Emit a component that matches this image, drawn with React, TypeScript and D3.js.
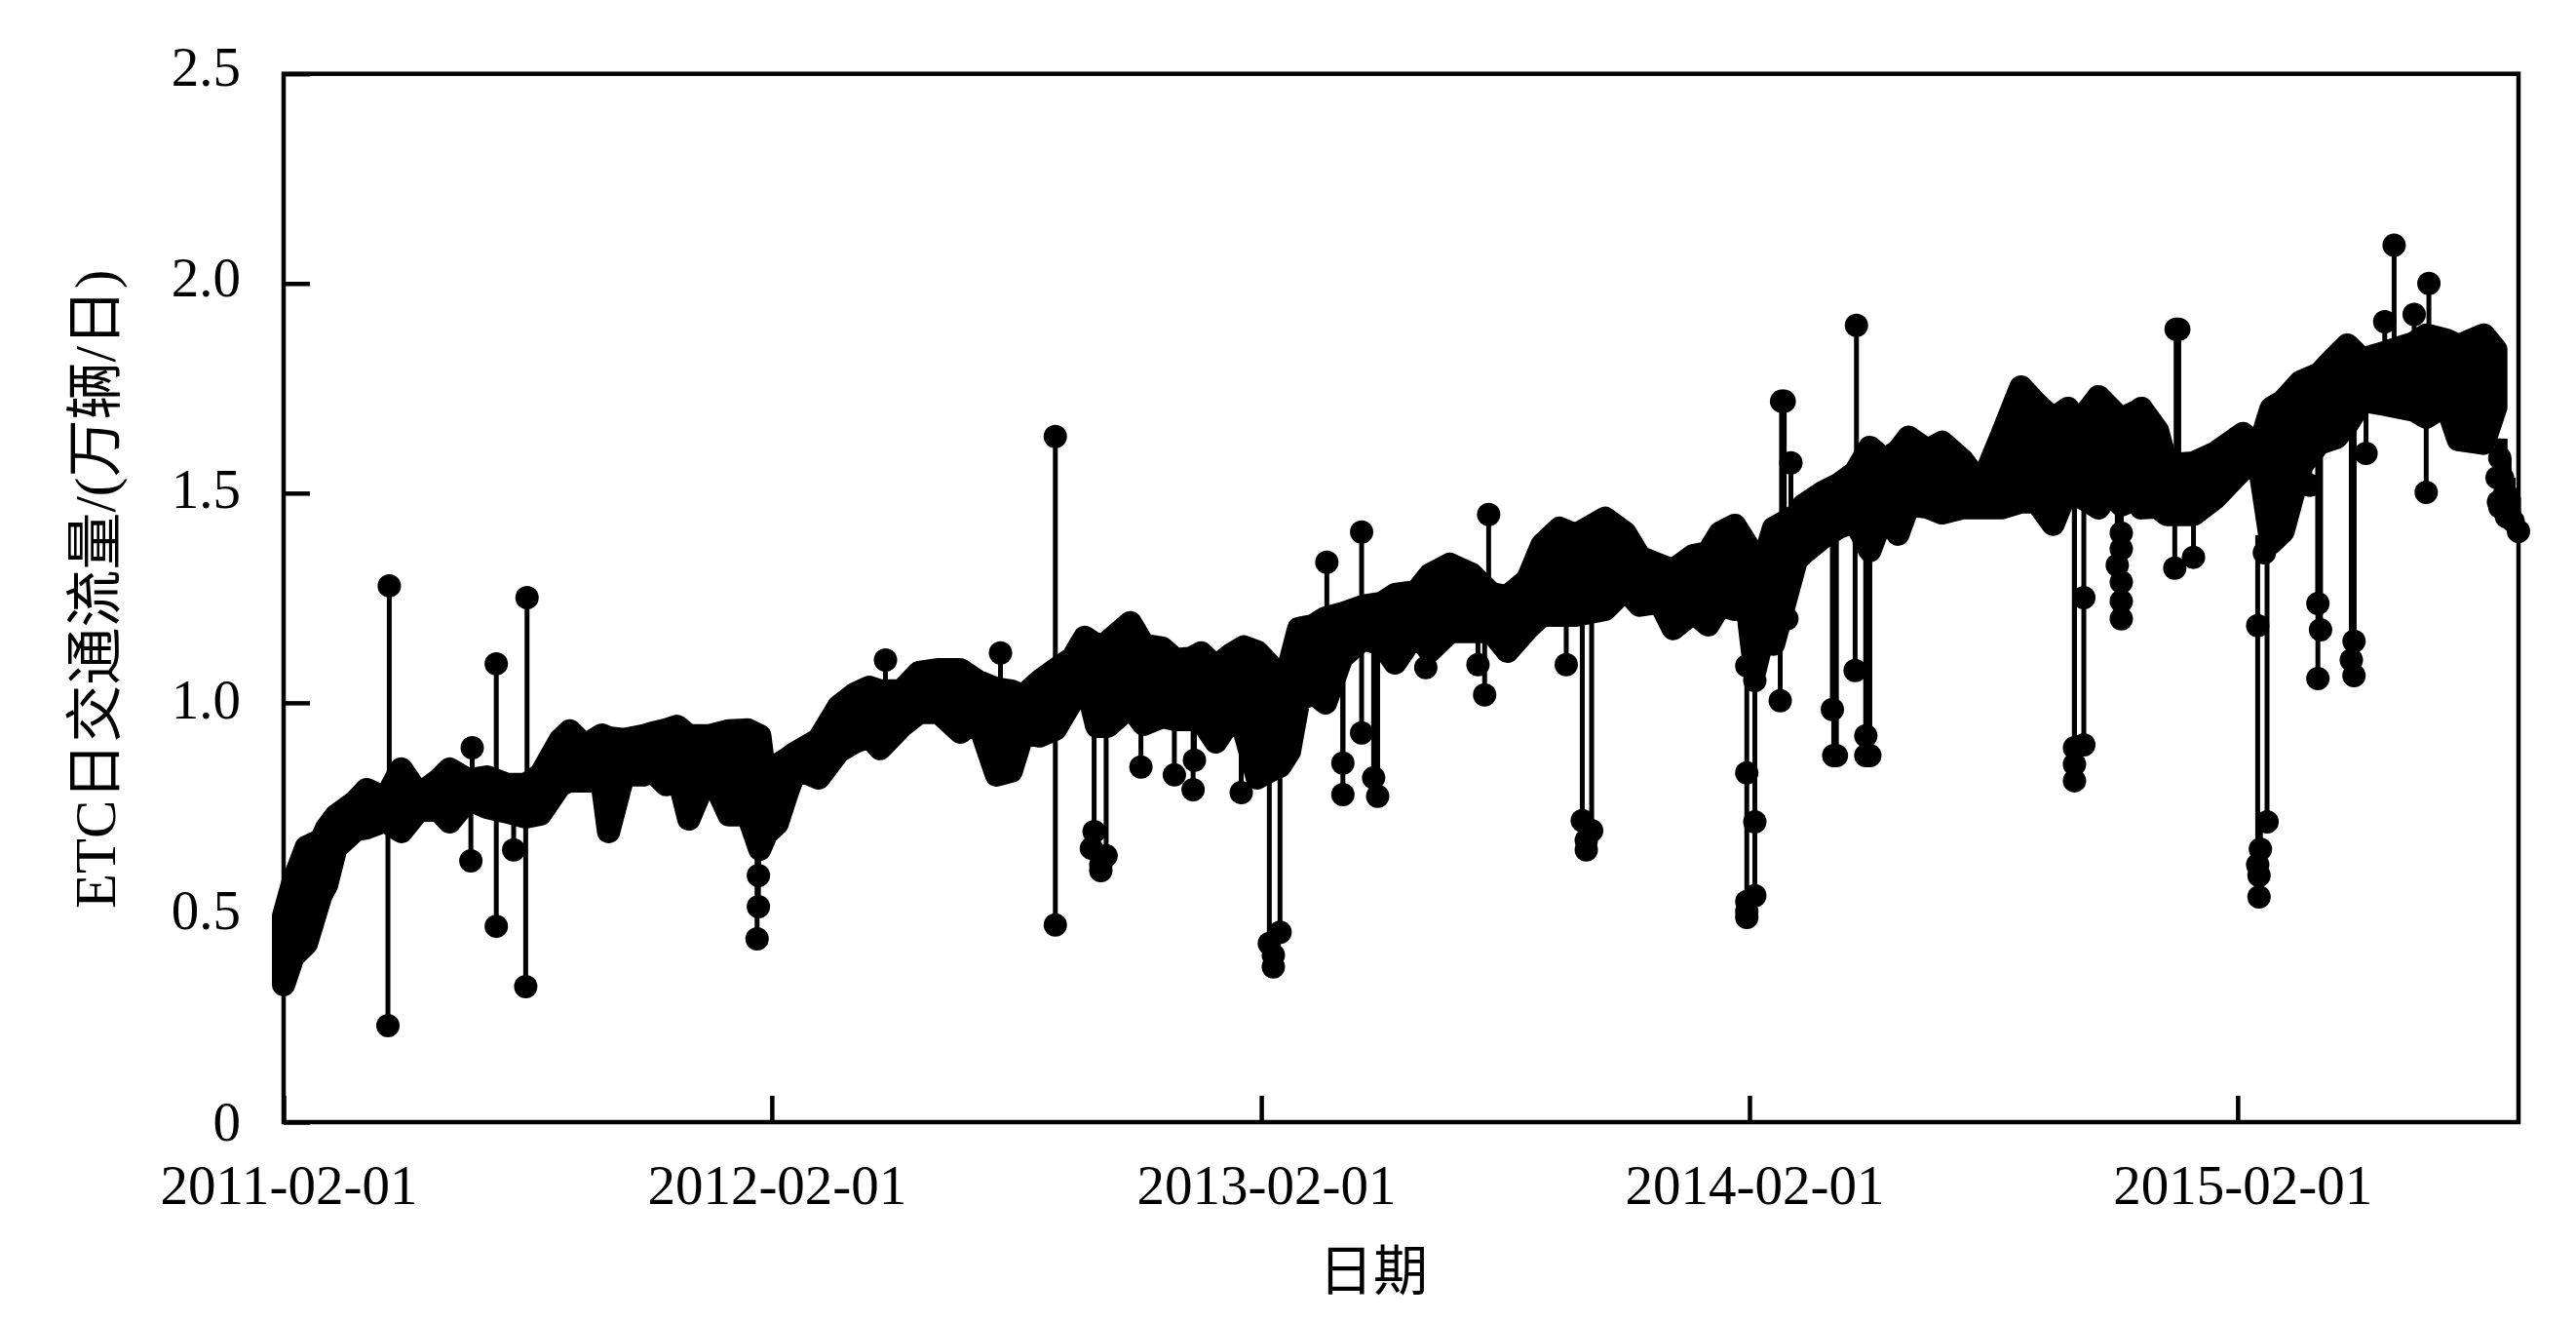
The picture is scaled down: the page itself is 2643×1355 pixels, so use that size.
import React, { useEffect, useRef } from "react";
import * as d3 from "d3";

const startDate = new Date(Date.UTC(2011, 1, 1));
const endDate = new Date(Date.UTC(2015, 7, 30));
const xTickDates = [2011, 2012, 2013, 2014, 2015].map((yr) => new Date(Date.UTC(yr, 1, 1)));
const yTickValues = [0, 0.5, 1, 1.5, 2, 2.5];

// daily flow band: [days since 2011-02-01, upper, lower]
const band2011: number[][] = [
  [0, 0.491, 0.328], [7, 0.572, 0.395], [17, 0.656, 0.426], [28, 0.672, 0.542], [32, 0.7, 0.565],
  [39, 0.73, 0.653], [54, 0.765, 0.698], [62, 0.793, 0.702], [76, 0.772, 0.719], [88, 0.842, 0.693],
  [101, 0.781, 0.744], [116, 0.816, 0.744], [124, 0.842, 0.716], [138, 0.816, 0.77], [152, 0.823, 0.751],
  [167, 0.805, 0.74], [181, 0.805, 0.728], [192, 0.828, 0.735], [207, 0.912, 0.805], [214, 0.933, 0.814],
  [225, 0.898, 0.814], [238, 0.923, 0.814], [243, 0.916, 0.693], [254, 0.912, 0.828], [269, 0.921, 0.828],
  [276, 0.928, 0.837], [286, 0.935, 0.805], [294, 0.944, 0.837], [303, 0.921, 0.723], [318, 0.921, 0.837],
  [333, 0.933, 0.733], [347, 0.935, 0.735], [356, 0.921, 0.651],
];
const band2012: number[][] = [
  [361, 0.795, 0.688], [369, 0.851, 0.712], [376, 0.865, 0.781], [383, 0.881, 0.844], [400, 0.912, 0.821],
  [415, 0.991, 0.884], [427, 1.021, 0.907], [438, 1.037, 0.919], [446, 1.028, 0.891], [462, 1.028, 0.944],
  [475, 1.072, 0.977], [490, 1.079, 0.977], [506, 1.079, 0.93], [519, 1.051, 0.96], [533, 1.033, 0.828],
  [544, 1.028, 0.837], [553, 1.016, 0.93], [565, 1.051, 0.921], [577, 1.079, 0.937], [590, 1.107, 1.007],
  [599, 1.156, 1.06], [608, 1.137, 0.944], [616, 1.144, 0.944], [633, 1.191, 0.991], [643, 1.137, 0.949],
  [657, 1.13, 0.967], [667, 1.102, 0.96], [679, 1.107, 0.96], [686, 1.119, 0.96], [697, 1.086, 0.907],
  [708, 1.114, 0.96], [718, 1.133, 0.937],
];
const band2013: number[][] = [
  [728, 1.121, 0.821], [737, 1.091, 0.837], [745, 1.028, 0.849], [752, 1.091, 0.884], [759, 1.177, 1.007],
  [770, 1.184, 1.023], [779, 1.202, 1.0], [791, 1.212, 1.107], [807, 1.23, 1.153], [821, 1.237, 1.14],
  [831, 1.258, 1.095], [847, 1.265, 1.17], [857, 1.305, 1.123], [872, 1.33, 1.17], [888, 1.307, 1.17],
  [903, 1.26, 1.17], [915, 1.253, 1.123], [930, 1.293, 1.177], [941, 1.377, 1.209], [954, 1.416, 1.209],
  [966, 1.4, 1.209], [988, 1.44, 1.223], [1003, 1.405, 1.27], [1014, 1.347, 1.233], [1029, 1.328, 1.24],
  [1039, 1.316, 1.177], [1054, 1.351, 1.216], [1065, 1.358, 1.186], [1074, 1.405, 1.233], [1085, 1.423, 1.223],
];
const band2014: number[][] = [
  [1094, 1.377, 1.24], [1100, 1.27, 1.077], [1109, 1.363, 1.193], [1114, 1.416, 1.14], [1131, 1.447, 1.34],
  [1136, 1.47, 1.356], [1151, 1.502, 1.395], [1163, 1.521, 1.419], [1175, 1.549, 1.433], [1186, 1.609, 1.363],
  [1197, 1.579, 1.456], [1207, 1.6, 1.402], [1215, 1.633, 1.472], [1229, 1.602, 1.467], [1240, 1.621, 1.453],
  [1255, 1.579, 1.465], [1265, 1.537, 1.465], [1274, 1.556, 1.465], [1284, 1.633, 1.465], [1299, 1.753, 1.479],
  [1311, 1.712, 1.479], [1323, 1.677, 1.426], [1334, 1.702, 1.512], [1342, 1.667, 1.495], [1357, 1.73, 1.465],
  [1369, 1.691, 1.519], [1374, 1.677, 1.472], [1386, 1.695, 1.488], [1389, 1.702, 1.465], [1401, 1.649, 1.467],
  [1408, 1.567, 1.449], [1428, 1.572, 1.449], [1444, 1.595, 1.488],
];
const band2015: number[][] = [
  [1465, 1.642, 1.558], [1477, 1.609, 1.572], [1486, 1.702, 1.381], [1495, 1.719, 1.409], [1508, 1.765, 1.563],
  [1522, 1.784, 1.619], [1535, 1.828, 1.633], [1543, 1.853, 1.665], [1554, 1.819, 1.721], [1571, 1.835, 1.712],
  [1593, 1.858, 1.698], [1602, 1.877, 1.681], [1617, 1.865, 1.712], [1626, 1.851, 1.628], [1645, 1.877, 1.619],
  [1654, 1.842, 1.705],
];
const bandSamples = [...band2011, ...band2012, ...band2013, ...band2014, ...band2015];

// outlying days: [days since 2011-02-01, value, value the line comes from]
const spikes2011: number[][] = [
  [79, 1.279, 0.75], [78, 0.23, 0.75], [159, 1.093, 0.79], [159, 0.467, 0.75], [182, 1.251, 0.8],
  [181, 0.323, 0.75], [141, 0.893, 0.8], [140, 0.623, 0.78], [172, 0.649, 0.75], [355, 0.588, 0.68],
  [355, 0.514, 0.68], [354, 0.437, 0.68],
];
const spikes2012: number[][] = [
  [450, 1.102, 0.98], [536, 1.119, 1.0], [577, 1.635, 1.0], [577, 0.47, 0.95], [606, 0.693, 0.95],
  [604, 0.653, 0.693], [611, 0.614, 0.653], [611, 0.6, 0.614], [615, 0.635, 0.95], [641, 0.847, 0.97],
  [666, 0.828, 0.95], [680, 0.793, 0.95], [681, 0.863, 0.95], [716, 0.786, 1.0],
];
const spikes2013: number[][] = [
  [737, 0.426, 0.85], [740, 0.398, 0.426], [740, 0.37, 0.398], [745, 0.453, 0.85], [792, 0.856, 1.15],
  [792, 0.781, 1.15], [806, 0.928, 1.15], [815, 0.821, 1.15], [818, 0.777, 1.15], [780, 1.335, 1.2],
  [806, 1.407, 1.2], [854, 1.084, 1.2], [901, 1.449, 1.27], [898, 1.019, 1.17], [893, 1.091, 1.17],
  [959, 1.091, 1.22], [971, 0.719, 1.25], [978, 0.695, 1.25], [974, 0.672, 0.719], [974, 0.649, 0.672],
];
const spikes2014: number[][] = [
  [1094, 1.088, 1.3], [1100, 1.053, 1.3], [1094, 0.833, 1.3], [1100, 0.716, 1.3], [1094, 0.526, 0.833],
  [1100, 0.54, 0.716], [1094, 0.502, 0.526], [1094, 0.488, 0.502], [1119, 1.005, 1.3], [1120, 1.719, 1.45],
  [1122, 1.719, 1.45], [1124, 1.2, 1.35], [1127, 1.572, 1.45], [1158, 0.984, 1.42], [1159, 0.874, 1.42],
  [1161, 0.874, 1.42], [1175, 1.077, 1.45], [1183, 0.921, 1.45], [1183, 0.874, 1.45], [1186, 0.874, 1.45],
  [1176, 1.9, 1.55], [1339, 0.893, 1.47], [1339, 0.853, 1.47], [1339, 0.814, 1.47], [1346, 1.251, 1.47],
  [1346, 0.9, 1.251], [1374, 1.2, 1.47], [1374, 1.242, 1.47], [1374, 1.288, 1.47], [1371, 1.328, 1.47],
  [1374, 1.367, 1.47], [1374, 1.405, 1.47], [1415, 1.891, 1.57], [1417, 1.891, 1.57], [1414, 1.321, 1.45],
  [1428, 1.347, 1.45],
];
const spikes2015: number[][] = [
  [1481, 1.358, 1.45], [1476, 1.184, 1.4], [1483, 0.716, 1.4], [1478, 0.651, 0.716], [1476, 0.614, 1.184],
  [1477, 0.588, 0.614], [1477, 0.537, 0.588], [1521, 1.237, 1.62], [1523, 1.174, 1.62], [1521, 1.058, 1.62],
  [1515, 1.519, 1.62], [1548, 1.147, 1.68], [1546, 1.102, 1.68], [1548, 1.065, 1.68], [1557, 1.595, 1.72],
  [1578, 2.091, 1.8], [1604, 2.0, 1.85], [1571, 1.909, 1.8], [1593, 1.926, 1.8], [1602, 1.502, 1.68],
  [1655, 1.537, 1.63], [1656, 1.479, 1.63], [1657, 1.584, 1.63], [1657, 1.467, 1.63], [1659, 1.537, 1.63],
  [1661, 1.502, 1.63], [1662, 1.444, 1.584], [1663, 1.491, 1.584], [1664, 1.456, 1.584], [1667, 1.433, 1.537],
  [1671, 1.409, 1.491],
];
const spikeSamples = [...spikes2011, ...spikes2012, ...spikes2013, ...spikes2014, ...spikes2015];

const App = () => {
  const svgRef = useRef<SVGSVGElement>(null);

  useEffect(() => {
    const w = 2643;
    const h = 1355;
    const left = 291;
    const right = 2584;
    const top = 75.7;
    const bottom = 1151;
    const markerR = 12;

    const serif = "'Liberation Serif', 'Noto Sans CJK SC', serif";

    const svg = d3.select(svgRef.current);
    svg.selectAll("*").remove();
    svg.attr("width", w).attr("height", h);

    const x = d3.scaleUtc().domain([startDate, endDate]).range([left, right]);
    const y = d3.scaleLinear().domain([0, 2.5]).range([bottom, top]);
    const dayX = (day: number) => x(d3.utcDay.offset(startDate, day));

    // the band is so dense in the original that it reads as one black shape,
    // the stroke stands in for the marker radius around it
    const area = d3
      .area<number[]>()
      .x((d) => dayX(d[0]))
      .y0((d) => y(d[2]))
      .y1((d) => y(d[1]));

    svg
      .append("path")
      .attr("d", area(bandSamples))
      .attr("fill", "#000")
      .attr("stroke", "#000")
      .attr("stroke-width", markerR * 2)
      .attr("stroke-linejoin", "round");

    svg
      .append("g")
      .selectAll("line")
      .data(spikeSamples)
      .join("line")
      .attr("x1", (d) => dayX(d[0]))
      .attr("x2", (d) => dayX(d[0]))
      .attr("y1", (d) => y(d[2]))
      .attr("y2", (d) => y(d[1]))
      .attr("stroke", "#000")
      .attr("stroke-width", 5);

    svg
      .append("g")
      .attr("fill", "#000")
      .selectAll("circle")
      .data(spikeSamples)
      .join("circle")
      .attr("cx", (d) => dayX(d[0]))
      .attr("cy", (d) => y(d[1]))
      .attr("r", markerR);

    // frame
    svg
      .append("rect")
      .attr("x", left)
      .attr("y", top)
      .attr("width", right - left)
      .attr("height", bottom - top)
      .attr("fill", "none")
      .attr("stroke", "#000")
      .attr("stroke-width", 4.5);

    const xAxis = svg
      .append("g")
      .attr("transform", `translate(0, ${bottom})`)
      .call(
        d3
          .axisBottom(x)
          .tickValues(xTickDates)
          .tickSize(-27)
          .tickFormat((d) => d3.utcFormat("%Y-%m-%d")(d as Date))
      );
    xAxis.select(".domain").remove();
    xAxis.selectAll("line").attr("stroke", "#000").attr("stroke-width", 4.5);
    xAxis
      .selectAll("text")
      .attr("font-family", serif)
      .attr("font-size", 57)
      .attr("fill", "#000")
      .attr("x", 5)
      .attr("y", 84)
      .attr("dy", 0);

    const yAxis = svg
      .append("g")
      .attr("transform", `translate(${left}, 0)`)
      .call(
        d3
          .axisLeft(y)
          .tickValues(yTickValues)
          .tickSize(-27)
          .tickFormat((d) => (+d === 0 ? "0" : d3.format(".1f")(d as number)))
      );
    yAxis.select(".domain").remove();
    yAxis.selectAll("line").attr("stroke", "#000").attr("stroke-width", 4.5);
    yAxis
      .selectAll("text")
      .attr("font-family", serif)
      .attr("font-size", 57)
      .attr("fill", "#000")
      .attr("text-anchor", "end")
      .attr("x", -44)
      .attr("dy", 0)
      .attr("y", (d) => 12 + (2.5 - (d as number)) * 2.4);

    svg
      .append("text")
      .attr("x", 1409)
      .attr("y", 1323)
      .attr("text-anchor", "middle")
      .attr("font-family", serif)
      .attr("font-size", 56)
      .attr("fill", "#000")
      .text("日期");

    svg
      .append("text")
      .attr("transform", "translate(118, 932) rotate(-90)")
      .attr("font-family", serif)
      .attr("font-size", 59)
      .attr("fill", "#000")
      .text("ETC日交通流量/(万辆/日)");
  }, []);

  return <svg ref={svgRef} style={{ position: "absolute", left: 0, top: 0, display: "block" }} />;
};

export default App;
